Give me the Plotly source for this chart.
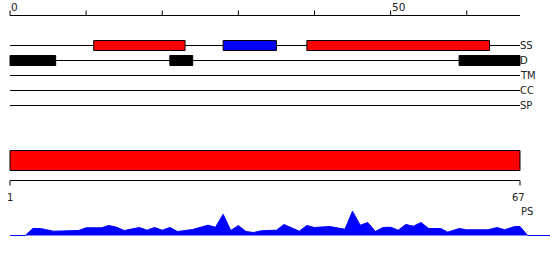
import plotly.graph_objects as go

# ---------------- data ----------------
seq_len = 67
top_ticks = [0, 10, 20, 30, 40, 50, 60]
top_tick_labels = ["0", "", "", "", "", "50", ""]

tracks = ["SS", "D", "TM", "CC", "SP"]
ss_start = [11, 28, 39]
ss_end = [23, 35, 63]
ss_color = ["#ff0000", "#0000ff", "#ff0000"]
d_start = [0, 21, 59]
d_end = [6, 24, 67]

domain_start = [0]
domain_end = [67]
bottom_labels = ["1", "67"]

ps_pos = [0, 2, 3, 4, 5.7, 9, 10, 12, 13, 14, 15,
          17, 18, 19, 20, 21, 22, 24, 26, 27, 28,
          29, 30, 31, 32, 33, 35, 36, 38, 39, 40,
          42, 44, 45, 46, 47, 48, 49, 50, 51, 52,
          53, 54, 55, 56.6, 57.5, 59, 60, 62.8, 64, 65,
          66.3, 67, 68, 71]
ps_val = [0, 0, 7, 7, 4.3, 5, 7.7, 7.7, 10, 8.3, 5,
          8, 5.3, 8, 5.3, 8, 4, 6, 10.3, 8.3, 21.3,
          5, 10, 4, 3, 4.7, 5.3, 11, 4.3, 10, 8,
          9, 6.3, 24.3, 10.3, 13, 4, 8, 8.3, 5.3, 11,
          9.3, 13, 7, 7, 3.3, 7, 5.7, 5.7, 8, 5.7,
          9, 9, 0, 0]

# ---------------- layout constants ----------------
PX = 510 / 67
X0 = -10 / PX
X1 = 540 / PX
track_y = [45.5, 60.5, 75.5, 90.5, 105.5]
box_half = 5
font = "DejaVu Sans"

fig = go.Figure()

shapes = []
annotations = []

# top ruler
axis_y = 15.5
shapes.append(dict(type="line", xref="x", yref="y", x0=0, x1=seq_len,
                   y0=axis_y, y1=axis_y, line=dict(color="black", width=1)))
for t, lab in zip(top_ticks, top_tick_labels):
    shapes.append(dict(type="line", xref="x", yref="y", x0=t, x1=t,
                       y0=axis_y, y1=axis_y - 5, line=dict(color="black", width=1)))
    if lab:
        annotations.append(dict(x=t, y=7, xref="x", yref="y", text=lab,
                                showarrow=False, xanchor="left", yanchor="middle",
                                xshift=-1, font=dict(family=font, size=10.5, color="#222")))

# track lines and labels
for name, ty in zip(tracks, track_y):
    shapes.append(dict(type="line", xref="x", yref="y", x0=0, x1=seq_len,
                       y0=ty, y1=ty, line=dict(color="black", width=1)))
    annotations.append(dict(x=seq_len, y=ty, xref="x", yref="y", text=name,
                            showarrow=False, xanchor="left", yanchor="middle",
                            xshift=-2, font=dict(family=font, size=10, color="#222")))

# SS boxes
for s, e, c in zip(ss_start, ss_end, ss_color):
    shapes.append(dict(type="rect", xref="x", yref="y", x0=s, x1=e,
                       y0=track_y[0] - box_half, y1=track_y[0] + box_half,
                       fillcolor=c, line=dict(color="black", width=1)))
# D boxes
for s, e in zip(d_start, d_end):
    shapes.append(dict(type="rect", xref="x", yref="y", x0=s, x1=e,
                       y0=track_y[1] - box_half, y1=track_y[1] + box_half,
                       fillcolor="black", line=dict(color="black", width=1)))

# big domain box
for s, e in zip(domain_start, domain_end):
    shapes.append(dict(type="rect", xref="x", yref="y", x0=s, x1=e,
                       y0=150.5, y1=170.5, fillcolor="#ff0000",
                       line=dict(color="black", width=1)))

# bottom ruler
by = 180.5
shapes.append(dict(type="line", xref="x", yref="y", x0=0, x1=seq_len,
                   y0=by, y1=by, line=dict(color="black", width=1)))
for xv, lab, sh in zip([0, seq_len], bottom_labels, [0, -2]):
    shapes.append(dict(type="line", xref="x", yref="y", x0=xv, x1=xv,
                       y0=by, y1=by + 5, line=dict(color="black", width=1)))
    annotations.append(dict(x=xv, y=197, xref="x", yref="y", text=lab,
                            showarrow=False, xanchor="center", yanchor="middle",
                            xshift=sh, font=dict(family=font, size=10, color="#222")))

annotations.append(dict(x=seq_len, y=211, xref="x", yref="y", text="PS",
                        showarrow=False, xanchor="left", yanchor="middle",
                        xshift=-1, font=dict(family=font, size=10, color="#222")))

# PS profile
fig.add_trace(go.Scatter(x=ps_pos, y=ps_val, mode="lines", xaxis="x", yaxis="y2",
                         fill="tozeroy", fillcolor="#0000ff",
                         line=dict(color="#0000ff", width=1),
                         hoverinfo="skip", showlegend=False))
# dummy for pixel axis
fig.add_trace(go.Scatter(x=[None], y=[None], xaxis="x", yaxis="y",
                         showlegend=False, hoverinfo="skip"))

fig.update_layout(
    width=550, height=260,
    margin=dict(l=0, r=0, t=0, b=0),
    paper_bgcolor="white", plot_bgcolor="white",
    showlegend=False,
    xaxis=dict(range=[X0, X1], visible=False, fixedrange=True),
    yaxis=dict(range=[260, 0], visible=False, domain=[0, 1], fixedrange=True),
    yaxis2=dict(range=[-1, 36], visible=False,
                domain=[(260 - 236.5) / 260, (260 - 199.5) / 260], anchor="x",
                fixedrange=True),
    shapes=shapes,
    annotations=annotations,
)

fig.write_html("out.html", config={"displayModeBar": False})
